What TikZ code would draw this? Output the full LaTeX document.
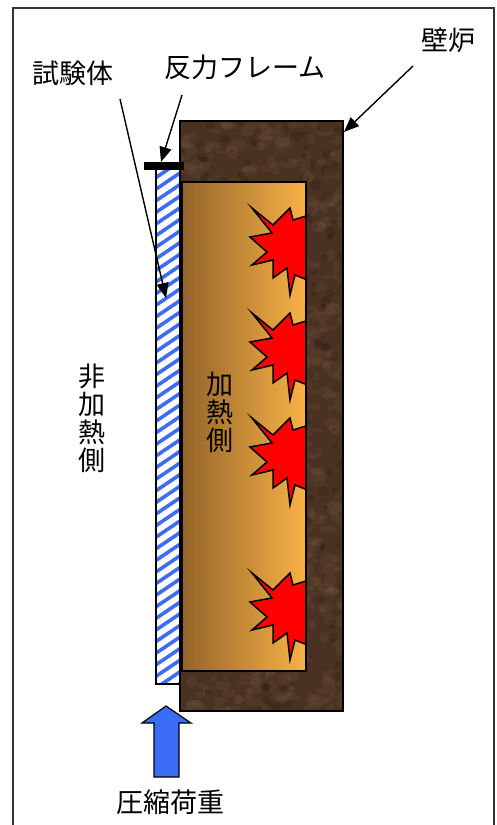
\documentclass[tikz,border=0pt]{standalone}
\usepackage{fontspec}
\newfontfamily\jpfont{Noto Sans CJK JP}
\usepackage{xcolor}
\usetikzlibrary{arrows.meta}
\usetikzlibrary{positioning}

\definecolor{wallbrown}{HTML}{4A3222}
\definecolor{wallspot}{HTML}{8E6E52}
\definecolor{heatdark}{HTML}{936429}
\definecolor{heatlight}{HTML}{F9B247}
\definecolor{stripeblue}{HTML}{3D6DF2}
\definecolor{loadblue}{HTML}{3B6CF6}
\definecolor{flamered}{HTML}{FF0000}

\tikzset{>=stealth}

\begin{document}
\begin{tikzpicture}[x=1pt, y=-1pt,
    label/.style={font=\jpfont\fontsize{27}{28}\selectfont, inner sep=0pt},
    vlabel/.style={label, align=center},
    line/.style={draw, line width=1.4pt, -{Triangle[length=15pt,width=12pt]}},
    outline/.style={draw=black, line width=1.5pt},
    stripe/.style={stripeblue, line width=3.6pt},
    pics/burst/.style={code={
      \filldraw[fill=flamered, draw=black, line width=1.5pt, line join=miter]
        (-38,-42) -- (-18,-17) -- (-40,-13) -- (-23,2) -- (-38,15) -- (-17,10)
        -- (-17,28) -- (-3,18) -- (0,45) -- (5,25) -- (30,35) -- (20,12)
        -- (45,0) -- (22,-8) -- (35,-40) -- (3,-30) -- (0,-42) -- (-17,-25) -- cycle;
    }}]
  \useasboundingbox (0,0) rectangle (496,825);

  % outer frame (open at the bottom)
  \draw[line width=2pt, black!80] (13,826) -- (13,8) -- (494,8) -- (494,826);

  %% wall furnace
  \fill[wallbrown] (180,121) rectangle (343,711);
  \begin{scope}
    \clip (180,121) rectangle (343,711);
    \pgfmathsetseed{42}
    \foreach \i in {1,...,700} {
      \pgfmathsetmacro{\px}{180+163*rnd}
      \pgfmathsetmacro{\py}{121+590*rnd}
      \pgfmathsetmacro{\rx}{3+6*rnd}
      \pgfmathsetmacro{\ry}{2+5*rnd}
      \fill[wallspot, opacity=0.12] (\px,\py) ellipse ({\rx pt} and {\ry pt});
    }
    \pgfmathsetseed{7}
    \foreach \i in {1,...,300} {
      \pgfmathsetmacro{\px}{180+163*rnd}
      \pgfmathsetmacro{\py}{121+590*rnd}
      \pgfmathsetmacro{\rr}{2+4*rnd}
      \fill[black, opacity=0.12] (\px,\py) circle ({\rr pt});
    }
  \end{scope}
  \draw[outline] (180,121) rectangle (343,711);

  %% heated chamber
  \shade[left color=heatdark, right color=heatlight] (182,182) rectangle (306,671);
  \begin{scope}
    \clip (182,182) rectangle (306,671);
    \pic at (290,250) {burst};
    \pic at (290,355) {burst};
    \pic at (290,460) {burst};
    \pic at (290,615) {burst};
  \end{scope}
  \draw[outline] (182,182) rectangle (306,671);

  %% specimen with stripes
  \fill[white] (156,168) rectangle (180,684);
  \begin{scope}
    \clip (156,168) rectangle (180,684);
    \foreach \k in {0,...,46}
      \draw[stripe] (150,170+\k*11.6) -- ++(40,-27);
  \end{scope}
  \draw[black, line width=1.2pt] (156,168) rectangle (180,684);

  % reaction frame bar
  \fill[black] (144,162) rectangle (184,170);

  %% compression load arrow
  \filldraw[fill=loadblue, draw=black, line width=1.2pt]
    (166,706) -- (191,723) -- (179,723) -- (179,777)
    -- (154,777) -- (154,723) -- (142,723) -- cycle;

  %% labels
  \node[label] (spec) at (73,73) {試験体};
  \node[label] (frame) at (245,67) {反力フレーム};
  \node[label] (wall) at (448,40) {壁炉};
  \node[vlabel] (unheated) at (92,418) {非\\加\\熱\\側};
  \node[vlabel] (heated) at (220,412) {加\\熱\\側};
  \node[label] (load) at (170,802) {圧縮荷重};

  \coordinate (specTail) at (120,99);
  \coordinate (specTip) at (166,298);
  \coordinate (frameTail) at (182,95);
  \coordinate (frameTip) at (161,162);
  \coordinate (wallTail) at (413,66);
  \coordinate (wallTip) at (344,132);

  \path [line] (specTail) -- (specTip);
  \path [line] (frameTail) -- (frameTip);
  \path [line] (wallTail) -- (wallTip);
\end{tikzpicture}
\end{document}
